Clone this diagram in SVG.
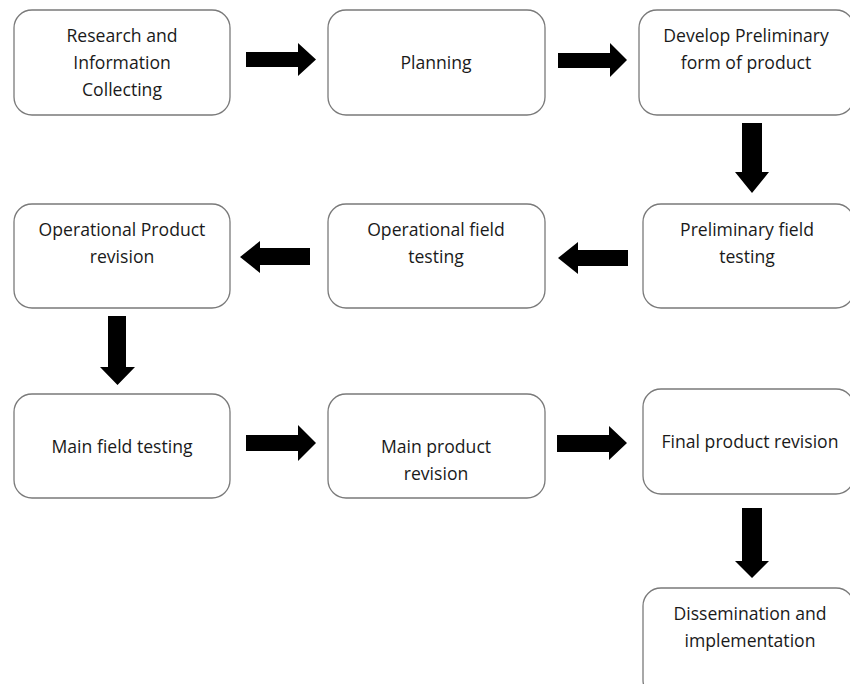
<svg xmlns="http://www.w3.org/2000/svg" width="850" height="684" viewBox="0 0 850 684">
<style>
.box{fill:#ffffff;stroke:#7a7a7a;stroke-width:1.3}
.t{font-family:"Open Sans","Liberation Sans",sans-serif;font-size:17.6px;fill:#1a1a1a;text-anchor:middle}
.arr{fill:#000000}
</style>
<rect width="850" height="684" fill="#ffffff"/>
<g id="n1"><rect class="box" x="14" y="10" width="216" height="105" rx="18"/>
<text class="t" x="122" y="42">Research and</text><text class="t" x="122" y="69">Information</text><text class="t" x="122" y="96">Collecting</text></g>
<g id="n2"><rect class="box" x="328" y="10" width="217" height="105" rx="18"/>
<text class="t" x="436" y="69">Planning</text></g>
<g id="n3"><rect class="box" x="639" y="10" width="215" height="105" rx="18"/>
<text class="t" x="746" y="42">Develop Preliminary</text><text class="t" x="746" y="69">form of product</text></g>
<g id="n4"><rect class="box" x="643" y="204" width="211" height="104" rx="18"/>
<text class="t" x="747" y="236">Preliminary field</text><text class="t" x="747" y="263">testing</text></g>
<g id="n5"><rect class="box" x="328" y="204" width="217" height="104" rx="18"/>
<text class="t" x="436" y="236">Operational field</text><text class="t" x="436" y="263">testing</text></g>
<g id="n6"><rect class="box" x="14" y="204" width="216" height="104" rx="18"/>
<text class="t" x="122" y="236">Operational Product</text><text class="t" x="122" y="263">revision</text></g>
<g id="n7"><rect class="box" x="14" y="394" width="216" height="104" rx="18"/>
<text class="t" x="122" y="453">Main field testing</text></g>
<g id="n8"><rect class="box" x="328" y="394" width="217" height="104" rx="18"/>
<text class="t" x="436" y="453">Main product</text><text class="t" x="436" y="480">revision</text></g>
<g id="n9"><rect class="box" x="643" y="389" width="211" height="105" rx="18"/>
<text class="t" x="750" y="448">Final product revision</text></g>
<g id="n10"><rect class="box" x="643" y="588" width="211" height="110" rx="18"/>
<text class="t" x="750" y="620">Dissemination and</text><text class="t" x="750" y="647">implementation</text></g>
<g id="connectors">
<polygon class="arr" points="246,52 298,52 298,43 316,59.5 298,76 298,67 246,67"/>
<polygon class="arr" points="558,53 610,53 610,43 627,60 610,77 610,68 558,68"/>
<polygon class="arr" points="742,123 762,123 762,172 769,172 752,193 735,172 742,172"/>
<polygon class="arr" points="628,250 578,250 578,242 558,258 578,274 578,266 628,266"/>
<polygon class="arr" points="310,248 260,248 260,241 240,257 260,273 260,265 310,265"/>
<polygon class="arr" points="108,316 126,316 126,367 135,367 117.5,385 100,367 108,367"/>
<polygon class="arr" points="246,435 298,435 298,425 316,443 298,461 298,451 246,451"/>
<polygon class="arr" points="557,435 609,435 609,426 627,443 609,460 609,452 557,452"/>
<polygon class="arr" points="742,508 762,508 762,561 769,561 752,578 735,561 742,561"/>
</g>
</svg>
